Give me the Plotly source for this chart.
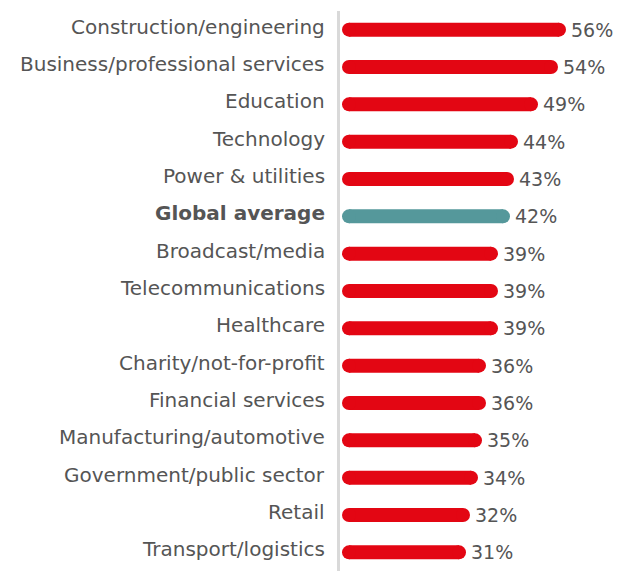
import plotly.graph_objects as go

categories = [
    "Construction/engineering",
    "Business/professional services",
    "Education",
    "Technology",
    "Power & utilities",
    "Global average",
    "Broadcast/media",
    "Telecommunications",
    "Healthcare",
    "Charity/not-for-profit",
    "Financial services",
    "Manufacturing/automotive",
    "Government/public sector",
    "Retail",
    "Transport/logistics",
]
values = [56, 54, 49, 44, 43, 42, 39, 39, 39, 36, 36, 35, 34, 32, 31]
highlight = "Global average"

RED = "#e30613"
TEAL = "#55989b"
TEXT = "#555555"
FONT = "DejaVu Sans"

W, H = 630, 572
L, R, T, B = 340, 2, 11, 1
XMIN, XMAX = -0.5, 71.5
px_per_unit = (W - L - R) / (XMAX - XMIN)
BAR_PX = 14
r_units = (BAR_PX / 2) / px_per_unit

fig = go.Figure()
for cat, v in zip(categories, values):
    col = TEAL if cat == highlight else RED
    fig.add_trace(go.Scatter(
        x=[r_units, v - r_units], y=[cat, cat],
        mode="lines+markers",
        line=dict(color=col, width=BAR_PX),
        marker=dict(color=col, size=BAR_PX, line=dict(width=0)),
        hoverinfo="skip", showlegend=False, cliponaxis=False,
    ))
    fig.add_annotation(
        x=v, y=cat, text=f"{v}%", showarrow=False, xanchor="left",
        xshift=3, font=dict(family=FONT, size=19, color=TEXT),
    )
    label = f"<b>{cat}</b>" if cat == highlight else cat
    fig.add_annotation(
        xref="paper", x=0, y=cat, text=label, showarrow=False,
        xanchor="right", xshift=-13, yshift=3,
        font=dict(family=FONT, size=20, color=TEXT),
    )

fig.update_layout(
    width=W, height=H,
    margin=dict(l=L, r=R, t=T, b=B, autoexpand=False),
    paper_bgcolor="white", plot_bgcolor="white",
    font=dict(family=FONT, size=19, color=TEXT),
    hovermode=False,
    xaxis=dict(range=[XMIN, XMAX], visible=False, fixedrange=True),
    yaxis=dict(
        type="category", categoryorder="array", categoryarray=categories,
        range=[len(categories) - 0.5, -0.5], autorange=False,
        showticklabels=False, automargin=False, fixedrange=True,
        showgrid=False, zeroline=False, showline=True,
        linecolor="#d9d9d9", linewidth=3, ticks="",
    ),
)

fig.write_html(
    "out.html",
    config={"displayModeBar": False, "staticPlot": True},
    post_script="document.body.style.margin='0';",
)
